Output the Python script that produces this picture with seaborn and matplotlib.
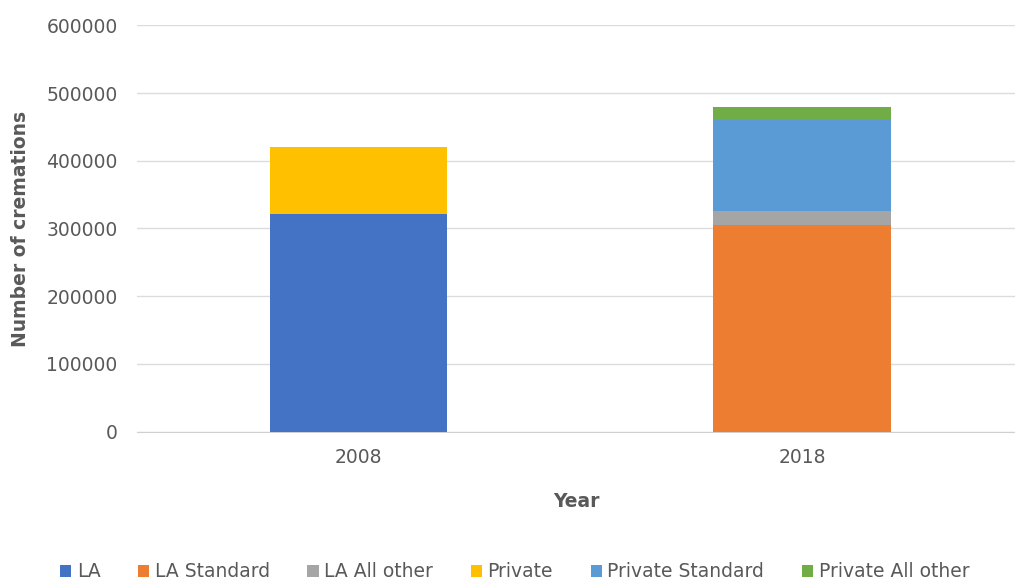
import matplotlib
matplotlib.use("Agg")
import matplotlib.pyplot as plt
from matplotlib.patches import Patch
import pandas as pd
import seaborn as sns

years = ["2008", "2018"]
series = ["LA", "LA Standard", "LA All other", "Private", "Private Standard", "Private All other"]
la = [321000, 0]
la_standard = [0, 305600]
la_all_other = [0, 20700]
private = [99300, 0]
private_standard = [0, 135400]
private_all_other = [0, 17300]
colors = ["#4472C4", "#ED7D31", "#A5A5A5", "#FFC000", "#5B9BD5", "#70AD47"]

values = [la, la_standard, la_all_other, private, private_standard, private_all_other]

sns.set_style("white")
plt.rcParams["font.family"] = ["DejaVu Sans"]

# cumulative heights for stacking (draw tallest first, lower layers on top)
rows = []
running = [0, 0]
for name, vals in zip(series, values):
    running = [r + v for r, v in zip(running, vals)]
    for y, c in zip(years, running):
        rows.append({"Year": y, "series": name, "top": c})
df = pd.DataFrame(rows)

fig = plt.figure(figsize=(10.15, 5.81), dpi=100)
ax = fig.add_axes([0.135, 0.257, 0.865, 0.6995])

for name, col in reversed(list(zip(series, colors))):
    sub = df[df["series"] == name]
    sns.barplot(data=sub, x="Year", y="top", order=years, color=col,
                width=0.4, ax=ax, saturation=1, errorbar=None,
                edgecolor="none", linewidth=0, zorder=3)

ax.set_xlim(-0.5, 1.48)
ax.set_ylim(0, 600000)
ax.set_yticks(range(0, 600001, 100000))
ax.set_yticklabels([str(v) for v in range(0, 600001, 100000)])
ax.yaxis.grid(True, color="#dcdcdc", linewidth=1, zorder=0)
ax.xaxis.grid(False)
for s in ["top", "right", "left"]:
    ax.spines[s].set_visible(False)
ax.spines["bottom"].set_color("#d0d0d0")
ax.tick_params(axis="both", length=0, labelsize=13.5, colors="#595959")
ax.tick_params(axis="y", pad=14)
ax.tick_params(axis="x", pad=12)
ax.set_axisbelow(True)

ax.set_xlabel("Year", fontsize=13.5, fontweight="bold", color="#595959", labelpad=18)
ax.set_ylabel("Number of cremations", fontsize=13.5, fontweight="bold", color="#595959", labelpad=12)

handles = [Patch(facecolor=c, edgecolor="none", label=s) for s, c in zip(series, colors)]
fig.legend(handles=handles, loc="center", bbox_to_anchor=(0.507, 0.016), ncol=6,
           frameon=False, fontsize=13.5, labelcolor="#595959",
           handlelength=0.6, handleheight=0.6, handletextpad=0.3, columnspacing=2.0)

fig.savefig("out.png", dpi=100)
